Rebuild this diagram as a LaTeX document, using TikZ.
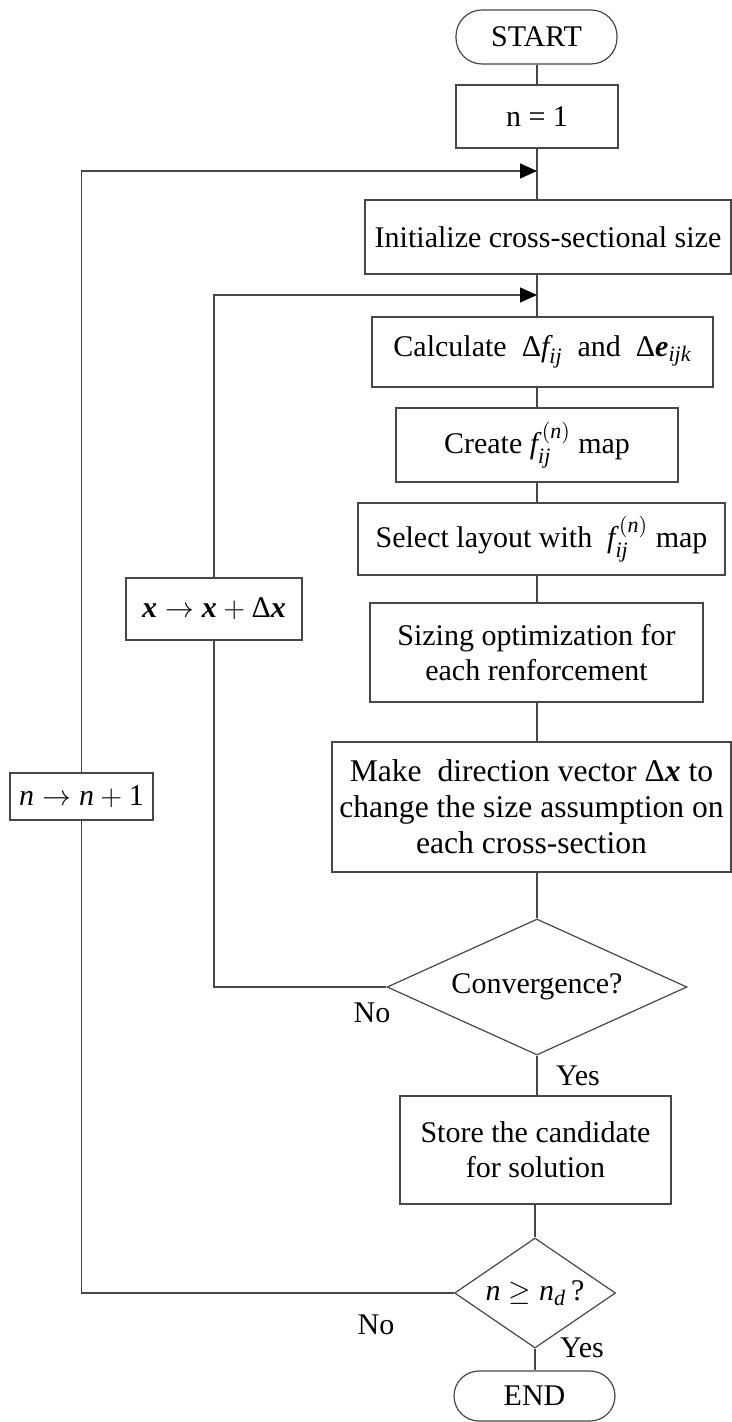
\documentclass[tikz,border=0pt]{standalone}
\usepackage{fontspec}
\usepackage{amsmath}
\setmainfont{Liberation Serif}
\usetikzlibrary{shapes.geometric,arrows.meta}
% italic and bold-italic symbols set in the text font
\newcommand\mi[1]{\text{\itshape #1}}
\newcommand\mbi[1]{\text{\bfseries\itshape #1}}
\newcommand\Dl{\text{Δ}}
% slightly larger indices for the map symbol
\DeclareMathSizes{15}{15}{11}{8}
\begin{document}
\begin{tikzpicture}[x=0.5pt,y=-0.5pt,
  font=\fontsize{15}{17.5}\selectfont,
  linec/.style={draw=black!72, line width=0.6pt},
  procbox/.style={rectangle, linec, fill=white, inner sep=0pt, align=center},
  termbox/.style={procbox, rounded corners=#1},
  decbox/.style={diamond, linec, fill=white, inner sep=0pt, align=center},
  link/.style={linec},
  feed/.style={linec, -{Triangle[length=8.5pt,width=7.5pt,color=black]}},
  tag/.style={inner sep=0pt}]

\useasboundingbox (0,0) rectangle (732,1422);

% main flow axis and the two re-entry points
\coordinate (ax) at (537,0);
\coordinate (t1) at (537,171);
\coordinate (t2) at (537,295);

% main column
\node[termbox=13pt, minimum width=80.5pt, minimum height=27pt] (start) at (536.5,37) {START};
\node[procbox, minimum width=81pt, minimum height=31.5pt] (n1) at (537,116.5) {n = 1};
\node[procbox, minimum width=183pt, minimum height=37pt] (init) at (548,237) {Initialize cross-sectional size};
\node[procbox, minimum width=170.5pt, minimum height=35pt] (calc) at (542.5,352)
  {Calculate\ \ $\Dl\mi{f}_{\mi{ij}}$\ \ and\ \ $\Dl\mbi{e}_{\mi{ijk}}$};
\node[procbox, minimum width=141pt, minimum height=37pt] (create) at (537,445)
  {Create $\mi{f}_{\mi{ij}}^{\,(\mi{n})}$ map};
\node[procbox, minimum width=183.5pt, minimum height=36pt] (select) at (541.5,539)
  {Select layout with\ \ $\mi{f}_{\mi{ij}}^{\,(\mi{n})}$ map};
\node[procbox, minimum width=166.5pt, minimum height=49.5pt] (sizing) at (536.5,652.5)
  {Sizing optimization for\\ each renforcement};
\node[procbox, minimum width=199.5pt, minimum height=65pt,
      font=\fontsize{15.8}{18}\selectfont] (make) at (531.5,807)
  {Make\ \ direction vector $\Dl\mbi{x}$ to\\change the size assumption on\\each cross-section};
\node[decbox, aspect=2.2, minimum width=150pt, minimum height=68pt] (conv) at (537,987) {Convergence?};
\node[procbox, minimum width=135.5pt, minimum height=54pt] (store) at (535.5,1150)
  {Store the candidate\\for solution};
\node[decbox, aspect=1.46, minimum width=80.5pt, minimum height=55pt] (nd) at (535,1293)
  {$\mi{n}\geq\mi{n}_{\mi{d}}$\,?};
\node[termbox=12.5pt, minimum width=80.5pt, minimum height=25pt] (end) at (534.5,1396) {END};

% loop-back updates
\node[procbox, minimum width=88pt, minimum height=31pt] (xdx) at (214,609)
  {$\mbi{x}\rightarrow\mbi{x}+\Dl\mbi{x}$};
\node[procbox, minimum width=71.5pt, minimum height=23.5pt] (nn1) at (81.5,796.5)
  {$\mi{n}\rightarrow\mi{n}+\text{1}$};

% branch labels
\node[tag] (no1) at (372,1013) {No};
\node[tag] (yes1) at (578,1076) {Yes};
\node[tag] (no2) at (376,1325) {No};
\node[tag] (yes2) at (582,1348) {Yes};

% main flow connectors
\draw[link] (start.south -| ax) -- (n1.north -| ax);
\draw[link] (n1.south -| ax) -- (init.north -| ax);
\draw[link] (init.south -| ax) -- (calc.north -| ax);
\draw[link] (calc.south -| ax) -- (create.north -| ax);
\draw[link] (create.south -| ax) -- (select.north -| ax);
\draw[link] (select.south -| ax) -- (sizing.north -| ax);
\draw[link] (sizing.south -| ax) -- (make.north -| ax);
\draw[link] (make.south -| ax) -- (conv.north);
\draw[link] (conv.south) -- (store.north -| conv.south);
\draw[link] (store.south -| nd.north) -- (nd.north);
\draw[link] (nd.south) -- (end.north -| nd.south);

% inner loop: not converged
\draw[link] (conv.west) -| (xdx.south);
\draw[feed] (xdx.north) |- (t2);

% outer loop: next candidate
\draw[link] (nd.west) -| (nn1.south);
\draw[feed] (nn1.north) |- (t1);
\end{tikzpicture}
\end{document}
